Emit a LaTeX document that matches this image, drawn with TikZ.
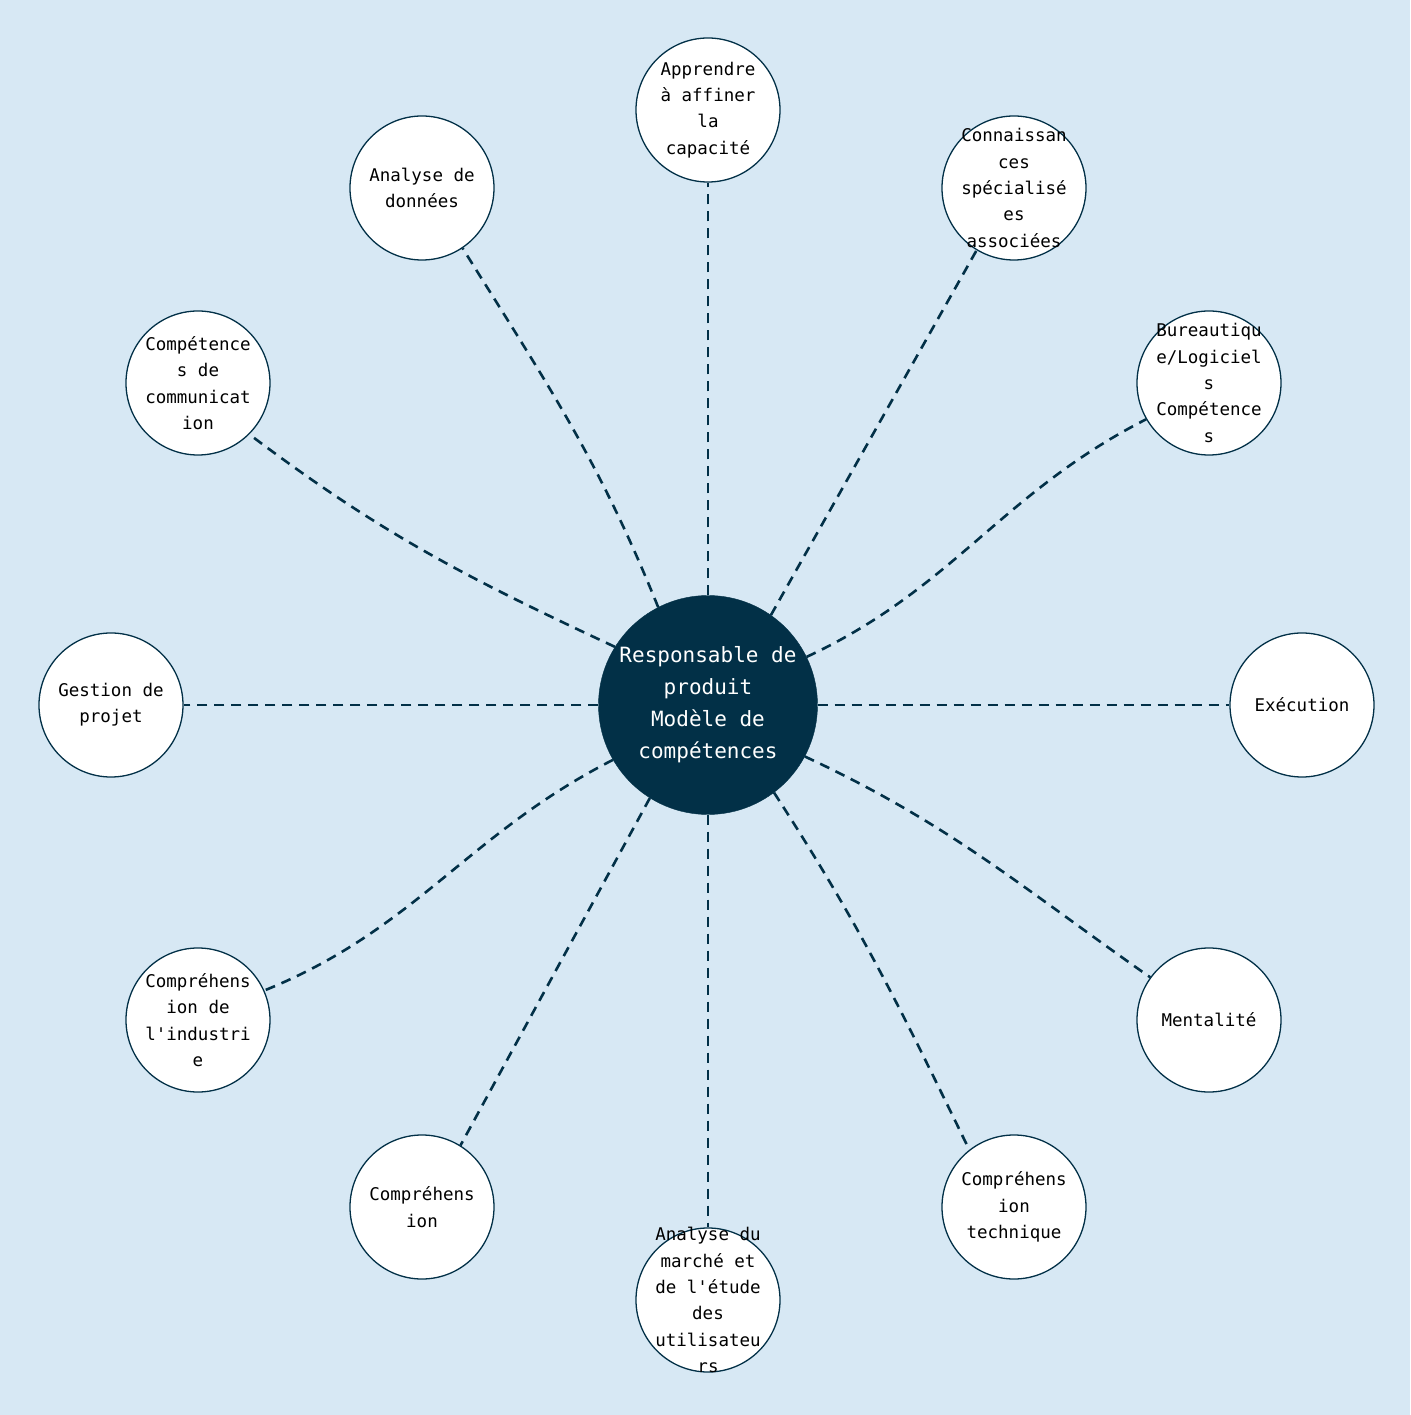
\documentclass[tikz,border=0pt]{standalone}
\usepackage{fontspec}
\setmonofont{DejaVu Sans Mono}
\definecolor{navy}{RGB}{2,48,71}
\definecolor{sky}{RGB}{215,232,244}

\begin{document}
\begin{tikzpicture}[
  x=1pt, y=1pt,
  font=\ttfamily,
  hub/.style={circle, fill=navy, draw=navy, minimum size=219pt, inner sep=0pt},
  topic/.style={circle, draw=navy, line width=1.3pt, fill=white, minimum size=144pt, inner sep=0pt},
  hubtxt/.style={text=white, align=center, font=\ttfamily\fontsize{21}{32}\selectfont},
  txt/.style={align=center, font=\ttfamily\fontsize{17.5}{26.3}\selectfont},
  link/.style={navy, line width=2.6pt, dash pattern=on 10pt off 7pt}
]
\fill[sky] (-708,-710) rectangle (702,705);
\node[hub, label={[hubtxt]center:Responsable de\\produit\\Modèle de\\compétences}] (pm) at (0,0) {};
\node[topic, label={[txt]center:Apprendre\\à affiner\\la\\capacité}] (learn) at (0,595) {};
\node[topic, label={[txt]center:Connaissan\\ces\\spécialisé\\es\\associées}] (special) at (306,517) {};
\node[topic, label={[txt]center:Bureautiqu\\e/Logiciel\\s\\Compétence\\s}] (office) at (501,322) {};
\node[topic, label={[txt]center:Exécution}] (exec) at (594,0) {};
\node[topic, label={[txt]center:Mentalité}] (mind) at (501,-315) {};
\node[topic, label={[txt]center:Compréhens\\ion\\technique}] (tech) at (306,-502) {};
\node[topic, label={[txt]center:Analyse du\\marché et\\de l'étude\\des\\utilisateu\\rs}] (market) at (0,-595) {};
\node[topic, label={[txt]center:Compréhens\\ion}] (underst) at (-286,-502) {};
\node[topic, label={[txt]center:Compréhens\\ion de\\l'industri\\e}] (industry) at (-510,-315) {};
\node[topic, label={[txt]center:Gestion de\\projet}] (project) at (-597,0) {};
\node[topic, label={[txt]center:Compétence\\s de\\communicat\\ion}] (comm) at (-510,322) {};
\node[topic, label={[txt]center:Analyse de\\données}] (data) at (-286,517) {};
\draw[link] (pm.90) -- (learn.270);
\draw[link] (pm.55) -- (special.239);
\draw[link] (pm.26) to[out=25, in=207] (office.210);
\draw[link] (pm.0) -- (exec.180);
\draw[link] (pm.332) to[out=-25, in=145] (mind.144);
\draw[link] (pm.307) to[out=-57, in=116] (tech.128);
\draw[link] (pm.270) -- (market.90);
\draw[link] (pm.238) -- (underst.58);
\draw[link] (pm.210) to[out=207, in=22] (industry.24);
\draw[link] (pm.180) -- (project.0);
\draw[link] (pm.148) to[out=155, in=-37] (comm.315);
\draw[link] (pm.117) to[out=112, in=-58] (data.304);
\end{tikzpicture}
\end{document}
